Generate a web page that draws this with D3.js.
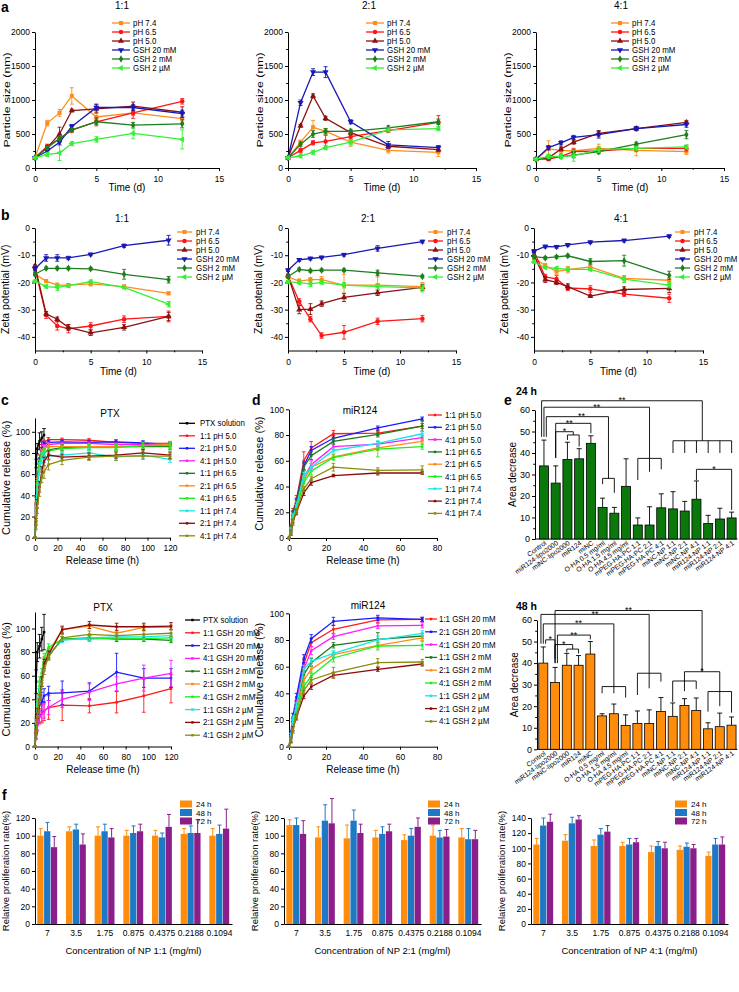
<!DOCTYPE html>
<html><head><meta charset="utf-8">
<script src="https://cdn.jsdelivr.net/npm/d3@7"></script>
<style>body{margin:0;background:#fff}svg{display:block}</style>
</head><body>
<svg id="c" width="739" height="992"></svg>
<script>
// ---------------- DATA ----------------
const timeDays = [0,1,2,3,5,8,12];
const seriesAB = ["pH 7.4","pH 6.5","pH 5.0","GSH 20 mM","GSH 2 mM","GSH 2 µM"];
const sizeTicks = [0,500,1000,1500,2000];
const dayTicks = [0,5,10,15];
const zetaTicks = [0,-10,-20,-30,-40];

const size11 = [[152,660,810,1060,750,810,725],[150,320,430,555,680,810,980],[150,300,500,845,870,910,820],[150,250,380,610,890,890,800],[150,300,430,560,680,630,650],[150,200,220,360,420,510,420]];
const size11Err = [[20,40,50,120,60,40,50],[15,30,30,30,60,80,40],[15,30,100,20,60,60,80],[15,20,40,30,50,40,50],[15,30,30,20,40,40,60],[15,30,110,30,40,80,140]];
const size21 = [[150,380,600,540,380,260,230],[150,260,370,390,460,550,670],[150,620,1060,730,520,320,270],[150,960,1410,1410,680,340,300],[150,350,500,540,540,590,680],[150,180,230,300,380,560,580]];
const size21Err = [[15,30,100,40,60,40,60],[15,30,30,90,40,30,100],[15,20,30,30,30,30,30],[15,40,50,80,30,50,30],[15,30,50,40,30,30,40],[15,30,30,30,40,30,30]];
const size41 = [[130,280,260,250,290,260,240],[130,130,170,240,250,290,290],[130,150,280,380,510,580,670],[130,300,370,450,490,580,640],[130,160,170,190,240,350,490],[130,170,170,180,270,290,310]];
const size41Err = [[15,120,40,40,60,80,40],[15,20,20,40,30,40,40],[15,30,30,30,40,30,30],[15,30,30,30,50,30,40],[15,30,30,40,30,30,60],[15,30,30,80,40,30,30]];

const zeta11 = [[-17,-19.5,-21,-21,-20.5,-21.5,-24],[-15,-32,-36,-37,-36,-33.5,-32.5],[-14,-31.5,-33.5,-36.5,-38.5,-36.5,-32.5],[-15,-11,-11,-11,-9.7,-6.5,-4.5],[-17,-14.8,-14.8,-14.8,-15,-17,-19],[-19.5,-21.5,-21.8,-21.2,-19.7,-21.8,-28]];
const zeta11Err = [[0.5,0.6,0.8,0.6,0.8,0.6,0.5],[0.6,1.2,1.5,1.5,1.2,1.2,2],[0.5,0.8,0.8,1,1,1,1.5],[0.8,1.2,1.2,0.6,0.5,0.6,1.8],[0.5,0.5,0.5,0.5,0.5,1.8,1.2],[0.5,0.6,1.2,0.6,0.6,0.6,1]];
const zeta21 = [[-18,-19.5,-19,-19,-21,-21,-21.5],[-17.5,-27,-33.5,-39.5,-38.3,-34.3,-33.3],[-17.5,-30,-29.8,-27.8,-25.5,-23.8,-21.8],[-15.5,-11.7,-11.2,-10.8,-9.8,-7.5,-5],[-17.8,-15.2,-15.7,-15.5,-15.5,-16.5,-17.8],[-19.8,-20.1,-20.5,-20,-21,-21.5,-22]];
const zeta21Err = [[0.5,0.8,0.8,1.2,4,3,1.5],[0.5,1,1,1,2.5,1.2,1.2],[0.5,1.5,2,1,1.5,1,1],[0.5,0.5,0.5,0.5,0.5,1,0.5],[0.5,0.5,0.5,0.5,0.5,1,0.5],[0.5,0.5,1,0.6,1,1,1.5]];
const zeta41 = [[-11,-13.8,-16,-15.3,-14.3,-18.5,-19.2],[-8.5,-18,-18.7,-22,-22.4,-24.3,-25.8],[-10,-19,-20,-21.5,-25,-22.6,-22.2],[-8.5,-6.8,-6.9,-6.2,-5.2,-4.6,-3],[-10.5,-11,-10.6,-10.2,-12.3,-12,-17.4],[-12.5,-14.5,-14.8,-15.2,-15.2,-18.8,-21]];
const zeta41Err = [[0.5,0.8,1,1.2,1.2,1,1],[0.5,1,1.2,1,1.2,0.8,1.5],[0.5,1,0.8,1,0.5,1,1.5],[0.5,0.5,0.5,0.5,0.5,0.5,0.5],[0.5,0.5,0.5,0.5,1,2,1.5],[0.5,0.5,0.5,0.5,0.5,1.2,1]];

const timePTX = [0,1,2,4,6,8,12,24,48,72,96,120];
const timeSolution = [0,1,2,4,6,8];
const timeMiR = [0,1,2,4,8,12,24,48,72];
const ptxTicksX = [0,20,40,60,80,100,120];
const mirTicksX = [0,20,40,60,80];
const relTicksY = [0,20,40,60,80,100];
const labelsPH = ["PTX solution","1:1 pH 5.0","2:1 pH 5.0","4:1 pH 5.0","1:1 pH 6.5","2:1 pH 6.5","4:1 pH 6.5","1:1 pH 7.4","2:1 pH 7.4","4:1 pH 7.4"];
const labelsGSH = ["PTX solution","1:1 GSH 20 mM","2:1 GSH 20 mM","4:1 GSH 20 mM","1:1 GSH 2 mM","2:1 GSH 2 mM","4:1 GSH 2 mM","1:1 GSH 2  µM","2:1 GSH 2 µM","4:1 GSH 2 µM"];
const labelsGSHmir = ["1:1 GSH 20 mM","2:1 GSH 20 mM","4:1 GSH 20 mM","1:1 GSH 2 mM","2:1 GSH 2 mM","4:1 GSH 2 mM","1:1 GSH 2 µM","2:1 GSH 2 µM","4:1 GSH 2 µM"];

const ptxSolutionPH = [0,70,84,91,94,97];
const ptxSolutionPHErr = [0,4,5,8,6,6];
const ptxPH = [
 [0,30,55,75,85,90,92.5,92.5,92,90,89,89],
 [0,28,50,72,82,88,90,90.5,90,90.5,89.5,88],
 [0,26,48,68,80,86,88,89,89,88,88,89],
 [0,35,55,70,78,80,83,85,86,86,86,86],
 [0,30,52,70,80,84,86,86,86,86,87,88],
 [0,28,50,70,78,81,82,84,85,85,87,87],
 [0,25,45,65,75,76,77,78,80,76,78,74],
 [0,15,32,48,62,72,78,76,77,78,80,78],
 [0,12,28,45,58,62,69,73,76,77,77,77]];
const ptxPHErr = [
 [0,3,4,3,3,2,2,1.5,1.5,1.5,1.5,1.5],
 [0,3,4,3,3,2,2,1.5,1.5,2,2,1.5],
 [0,3,4,3,3,2,2,1.5,1.5,1.5,1.5,1.5],
 [0,3,4,3,3,3,3,3,3,3,3,3],
 [0,3,4,3,3,3,3,3,3,3,3,3],
 [0,3,4,3,3,3,3,3,3,3,3,3],
 [0,4,5,6,5,5,4,3,4,3,3,3],
 [0,3,4,5,5,4,4,3,3,3,3,3],
 [0,4,5,6,6,6,5,4,3,4,3,3]];

const mirPH = [
 [0,8,20,30,60,70,81,81.5,87],
 [0,6,18,28,56,68,77.5,85.5,92.5],
 [0,5,15,25,47,57,71,73,78],
 [0,7,18,27,55,64,75,80.5,87],
 [0,5,15,23,45,55,63,70,75],
 [0,5,15,23,43,52,62.5,69,71],
 [0,6,16,25,48,55,68,73.5,81],
 [0,4,12,20,35,43,48.5,50.5,50.5],
 [0,4,13,21,38,46,55,52.5,53]];
const mirPHErr = [
 [0,2,3,3,7,5,2.5,2,2],[0,2,3,3,3,3,2,1.5,1.5],[0,2,3,3,3,3,2,2,2],
 [0,2,3,3,3,3,2,2,4],[0,2,3,3,3,3,2,2,2],[0,2,3,3,3,3,2,6,2],
 [0,2,3,3,3,3,2,2,2],[0,2,2,2,2,2,1,1.5,1],[0,2,2,2,2,2,3,2,3]];

const ptxSolutionGSH = [0,55,80,85,91,97];
const ptxSolutionGSHErr = [0,10,8,10,10,15];
const ptxGSH = [
 [0,10,18,26,28,30,33,35,34.5,37.5,43,49],
 [0,15,25,35,38,43,45,45.5,47,63,58,58],
 [0,10,18,25,28,30,33,40,46,53,58,62],
 [0,15,30,45,55,68,77,91,92,91,91,90],
 [0,15,30,45,58,72,80,99,102,96,101,101],
 [0,20,35,55,62,75,84,91,91,92,91.5,92],
 [0,18,32,45,58,70,78,90,92,93,93,94],
 [0,15,28,40,55,70,78,99,103,101.5,101.5,102],
 [0,12,25,40,52,65,76,92,95,94,95,96]];
const ptxGSHErr = [
 [0,3,4,6,8,8,10,13,6,9,14,12],
 [0,4,5,8,8,6,6,10,7,16,8,8],
 [0,4,5,6,7,6,6,7,7,6,11,11],
 [0,3,4,4,4,4,3,2,2,2,2,2],
 [0,3,4,4,4,4,3,2,2,2,2,2],
 [0,3,4,4,4,4,3,2,2,2,2,2],
 [0,3,4,4,4,4,3,2,2,2,2,2],
 [0,3,4,4,4,4,3,3,3,3,3,3],
 [0,3,4,4,4,4,3,3,3,3,3,3]];

const mirGSH = [
 [0,8,18,32,62,78,88,95,95.5],
 [0,10,22,37,66,81,94,96.5,95.5],
 [0,8,17,32,58,72,82.5,90.5,91],
 [0,6,15,28,54,63,76,80.5,83],
 [0,5,15,27,50,58,69,76,81.5],
 [0,5,15,27,45,53,66.5,75.5,76],
 [0,8,20,30,58,64,70,80,85],
 [0,5,13,22,38,45,53.5,58,62],
 [0,5,12,23,42,50,55.5,63,63.5]];
const mirGSHErr = [
 [0,2,3,3,3,3,3,2,1.5],[0,2,3,3,3,3,3,2,1.5],[0,2,3,3,3,3,2,2,2],
 [0,2,3,3,3,3,2,5,2],[0,2,3,3,3,3,2,2,2],[0,2,3,3,3,3,3,3,3],
 [0,2,3,3,3,3,2,3,2],[0,2,2,2,2,2,2,1.5,1.5],[0,2,2,2,2,2,4,3,2]];

const woundGroups = ["Control","miR124-lipo2000","miNC-lipo2000","miR124","miNC","O-HA 0.5 mg/ml","O-HA 1.5 mg/ml","O-HA 4.5 mg/ml","mPEG-HA-PC 1:1","mPEG-HA-PC 2:1","mPEG-HA-PC 4:1","miNC-NP 1:1","miNC-NP 2:1","miNC-NP 4:1","miR124-NP 1:1","miR124-NP 2:1","miR124-NP 4:1"];
const areaTicks = [0,10,20,30,40,50,60];
const area24 = [34,26,37,37.3,44.5,14.7,12,24.5,6.5,6.5,14.5,14,13,18.5,7.2,9.3,9.8];
const area24Err = [12,8,8,4.7,3.5,4.3,2.7,12.8,3.3,8.5,6.5,8,4.5,8.5,3.8,5,2.7];
const area48 = [40,31,39,39,44.2,15.5,16.5,11,12,12,17.5,15.3,20.3,18,9.5,10.5,11.2];
const area48Err = [7.5,7,5.5,4.5,5.8,1,4.5,5,5.8,6.3,6.5,6.2,3.2,5.8,2.8,6.3,3.8];
// significance brackets: [leftIdx, rightIdx, level, leftFoot, rightFoot, label]
const sig24 = [[-0.2,13.5,64.3,47.5,45.7,"**"],[0,9,61.3,47.5,37.5,"**"],[0.2,5.5,56.9,47.5,28.2,"**"],[1,4,53.8,37.7,49.2,"**"],[1,2.5,49.9,37.7,48.4,"*"],[13,16,32.4,27.4,13.5,"*"]];
const grp24 = [[[2,3],48.4,[46,43]],[[5,6],28.2,[25.5,21.5]],[[8,9,10],37.5,[27.4,31.3,32.4]],[[11,12,13,14,15,16],45.7,[40,40,40,40,40,40]]];
const sig48 = [[1,13.5,64.4,42,36,"**"],[-0.2,9,62.6,49,35.3,"**"],[0,6,58.2,49,29.1,"**"],[1.2,4,53,40,51,"**"],[0.2,1,50.8,49,40,"*"],[1,2.5,48.6,40,46.5,"*"],[12,15,36,31.7,26.8,"*"]];
const grp48 = [[[2,3],46.5,[45,44.5]],[[5,6,7],29.1,[26,26,24]],[[8,9,10],35.3,[25.2,28.3,31.4]],[[11,12,13],31.7,[22,27,28]],[[14,15,16],26.8,[17.5,20,17]]];

const concLabels = ["7","3.5","1.75","0.875","0.4375","0.2188","0.1094"];
const timeF = ["24 h","48 h","72 h"];
const prolif11 = [[100,105,87],[105,107,90],[100,105,98],[100,103,105],[100,98,110],[102,103,103],[100,102,108]];
const prolif11Err = [[8,10,12],[5,6,12],[10,8,10],[6,8,8],[6,5,14],[6,8,15],[8,10,22]];
const prolif21 = [[112,112,102],[98,117,114],[97,117,103],[98,102,105],[95,100,110],[100,98,99],[98,96,96]];
const prolif21Err = [[6,8,15],[12,18,28],[15,12,10],[8,8,8],[6,8,10],[12,8,8],[10,12,10]];
const prolif41 = [[105,130,135],[110,133,138],[103,118,122],[103,105,108],[95,103,100],[98,102,100],[90,105,105]];
const prolif41Err = [[8,10,10],[8,8,5],[8,8,8],[5,8,5],[8,6,8],[5,5,5],[5,8,10]];
const prolifTicks120 = [0,20,40,60,80,100,120];
const prolifTicks140 = [0,20,40,60,80,100,120,140];

// ---------------- STYLE ----------------
const FONT = "'Liberation Sans', Arial, sans-serif";
const colAB = ["#ff8c1a","#ff1414","#8b1010","#1818b4","#1e7d1e","#35ef35"];
const symAB = ["sq","ci","tu","td","di","tl"];
const colRel = ["#000000","#ff1a1a","#1a1aff","#ff1aff","#1a7a1a","#ff8c1a","#1aee1a","#19e6e6","#8b0a0a","#8b8b0a"];
const colBar24 = "#0a780a", colBar48 = "#ff8c0a";
const colF = ["#ff8c0a","#1f78c4","#8a1f8c"];
const sigLabelShift24 = {2:4,3:-4};
const sigLabelShift48 = {};

const svg = d3.select("#c");

function T(p,x,y,s,o={}){
  const t = p.append("text")
    .attr("transform",`translate(${x},${y})`+(o.rot?` rotate(${o.rot})`:"")+(o.sx?` scale(${o.sx},1)`:""))
    .attr("font-size",o.size||9).attr("text-anchor",o.anchor||"start")
    .attr("font-family",FONT).attr("fill",o.fill||"#000").text(s);
  if(o.weight) t.attr("font-weight",o.weight);
  return t;
}
function styleAxis(g,fs){
  g.selectAll("path,line").attr("stroke","#000").attr("stroke-width",1);
  g.selectAll("text").attr("font-size",fs).attr("font-family",FONT).attr("fill","#000");
}
const symTypes = {sq:d3.symbolSquare,ci:d3.symbolCircle,tu:d3.symbolTriangle,td:d3.symbolTriangle,di:d3.symbolDiamond,tl:d3.symbolTriangle};
const symRot = {td:180,tl:-90};
function marker(p,x,y,type,color,size){
  p.append("path").attr("d",d3.symbol().type(symTypes[type]).size(size)())
   .attr("transform",`translate(${x},${y})`+(symRot[type]?` rotate(${symRot[type]})`:"")).attr("fill",color);
}
function vline(p,x,y1,y2,c,w){p.append("line").attr("x1",x).attr("x2",x).attr("y1",y1).attr("y2",y2).attr("stroke",c).attr("stroke-width",w||1);}
function hline(p,x1,x2,y,c,w){p.append("line").attr("x1",x1).attr("x2",x2).attr("y1",y).attr("y2",y).attr("stroke",c).attr("stroke-width",w||1);}

function linePanel(o){
  const x = d3.scaleLinear().domain(o.xDom).range([o.L,o.R]);
  const y = d3.scaleLinear().domain(o.yDom).range([o.B,o.T]);
  const g = svg.append("g");
  const gx = g.append("g").attr("transform",`translate(0,${o.B})`)
    .call(d3.axisBottom(x).tickValues(o.xTicks).tickSize(3).tickSizeOuter(0).tickPadding(o.xPad||4).tickFormat(d=>String(d)));
  styleAxis(gx,o.tf||8.5);
  if(o.xMinor){const m=g.append("g").attr("transform",`translate(0,${o.B})`).call(d3.axisBottom(x).tickValues(o.xMinor).tickSize(1.8).tickFormat(""));m.select(".domain").remove();styleAxis(m,8);}
  const gy = g.append("g").attr("transform",`translate(${o.L},0)`)
    .call(d3.axisLeft(y).tickValues(o.yTicks).tickSize(3).tickSizeOuter(0).tickPadding(2).tickFormat(d=>String(d)));
  styleAxis(gy,o.tf||8.5);
  if(o.yMinor){const m=g.append("g").attr("transform",`translate(${o.L},0)`).call(d3.axisLeft(y).tickValues(o.yMinor).tickSize(1.8).tickFormat(""));m.select(".domain").remove();styleAxis(m,8);}
  o.series.forEach((vals,i)=>{
    const xs = o.xsOf(i), c = o.colors[i];
    const pts = vals.map((v,j)=>({x:xs[j],v:v,e:o.errs[i][j]}));
    const sg = g.append("g");
    pts.forEach(d=>{ if(d.e>0){const cx=x(d.x); vline(sg,cx,y(d.v-d.e),y(d.v+d.e),c,o.ew||1);
      hline(sg,cx-o.cap,cx+o.cap,y(d.v+d.e),c,o.ew||1); hline(sg,cx-o.cap,cx+o.cap,y(d.v-d.e),c,o.ew||1);} });
    sg.append("path").datum(pts).attr("fill","none").attr("stroke",c).attr("stroke-width",o.lw)
      .attr("d",d3.line().x(d=>x(d.x)).y(d=>y(d.v)));
    pts.forEach(d=>marker(sg,x(d.x),y(d.v),o.syms[i],c,o.ss));
  });
  o.labels.forEach((lab,i)=>{
    const ly = o.legY + i*o.legDy;
    hline(g,o.legX,o.legX+o.legLen,ly,o.colors[i],o.lw);
    marker(g,o.legX+o.legLen/2,ly,o.syms[i],o.colors[i],o.ss);
    T(g,o.legX+o.legLen+o.legGap,ly+3,lab,{size:o.lf,sx:o.lsx});
  });
  if(o.title) T(g,o.titleX,o.titleY,o.title,{size:10,anchor:"middle"});
  T(g,(o.L+o.R)/2+(o.xlDx||0),o.xlY,o.xLabel,{size:o.xlf||10,anchor:"middle"});
  T(g,o.ylX,(o.B+o.T)/2,o.yLabel,{size:o.ylf||10,anchor:"middle",rot:-90,sx:o.ylsx});
}

// ----- Row a -----
const aPos = [[35,219,size11,size11Err,"1:1",122,112],[288,476,size21,size21Err,"2:1",369,366],[536,724,size41,size41Err,"4:1",621,611]];
aPos.forEach(p=>{
  linePanel({L:p[0],R:p[1],T:32,B:168,xDom:[0,15],yDom:[0,2000],xTicks:dayTicks,yTicks:sizeTicks,
    xMinor:[2.5,7.5,12.5],yMinor:[250,750,1250,1750],
    series:p[2],errs:p[3],xsOf:()=>timeDays,colors:colAB,syms:symAB,labels:seriesAB,
    lw:1.3,ss:16,cap:2,ew:0.9,legX:p[6],legY:23,legDy:9,legLen:18,legGap:3,lf:8.6,lsx:0.92,
    title:p[4],titleX:p[5],titleY:9,xLabel:"Time (d)",xlY:191,yLabel:"Particle size (nm)",ylX:p[0]-25,ylsx:1.3,ylf:9.5,xPad:5});
});
// ----- Row b -----
const bPos = [[35,202,zeta11,zeta11Err,"1:1",122,177],[288,456,zeta21,zeta21Err,"2:1",368,428],[534,703,zeta41,zeta41Err,"4:1",621,675]];
bPos.forEach(p=>{
  linePanel({L:p[0],R:p[1],T:228,B:350.5,xDom:[0,15],yDom:[-45,0],xTicks:dayTicks,yTicks:zetaTicks,
    xMinor:[2.5,7.5,12.5],yMinor:[-5,-15,-25,-35],
    series:p[2],errs:p[3],xsOf:()=>timeDays,colors:colAB,syms:symAB,labels:seriesAB,
    lw:1.3,ss:16,cap:2,ew:0.9,legX:p[6],legY:232,legDy:9,legLen:15,legGap:4,lf:8.6,lsx:0.92,
    title:p[4],titleX:p[5],titleY:222,xLabel:"Time (d)",xlY:375,yLabel:"Zeta potential (mV)",ylX:p[0]-26,ylf:10.5,xPad:5});
});
// ----- Row c/d -----
const relSyms = Array(10).fill("sq");
linePanel({L:35,R:170,T:418,B:537.7,xDom:[0,120],yDom:[0,113],xTicks:ptxTicksX,yTicks:relTicksY,
  series:[ptxSolutionPH].concat(ptxPH),errs:[ptxSolutionPHErr].concat(ptxPHErr),xsOf:i=>i===0?timeSolution:timePTX,
  colors:colRel,syms:relSyms,labels:labelsPH,lw:1.3,ss:6,cap:1.8,ew:0.9,
  legX:179,legY:423.3,legDy:12.5,legLen:16,legGap:5,lf:8.6,lsx:0.92,
  title:"PTX",titleX:110,titleY:417,xLabel:"Release time (h)",xlY:564,yLabel:"Cumulative release (%)",ylX:10,ylf:11,xPad:4});
linePanel({L:289,R:437,T:409.3,B:538,xDom:[0,80],yDom:[0,100],xTicks:mirTicksX,yTicks:relTicksY,
  series:mirPH,errs:mirPHErr,xsOf:()=>timeMiR,colors:colRel.slice(1),syms:relSyms,labels:labelsPH.slice(1),
  lw:1.3,ss:6,cap:1.8,ew:0.9,legX:428,legY:415,legDy:12.3,legLen:14,legGap:3,lf:8.6,lsx:0.92,
  title:"miR124",titleX:360,titleY:414,xLabel:"Release time (h)",xlY:564,yLabel:"Cumulative release (%)",ylX:263,ylf:11,xPad:4});
linePanel({L:35,R:171,T:612,B:746.5,xDom:[0,120],yDom:[0,114],xTicks:ptxTicksX,yTicks:relTicksY,
  series:[ptxSolutionGSH].concat(ptxGSH),errs:[ptxSolutionGSHErr].concat(ptxGSHErr),xsOf:i=>i===0?timeSolution:timePTX,
  colors:colRel,syms:relSyms,labels:labelsGSH,lw:1.3,ss:6,cap:1.8,ew:0.9,
  legX:185,legY:620,legDy:12.8,legLen:15,legGap:3,lf:8.6,lsx:0.92,
  title:"PTX",titleX:103,titleY:611,xLabel:"Release time (h)",xlY:773,yLabel:"Cumulative release (%)",ylX:10,ylf:11,xPad:4});
linePanel({L:289,R:437,T:613.3,B:746.7,xDom:[0,80],yDom:[0,100],xTicks:mirTicksX,yTicks:relTicksY,
  series:mirGSH,errs:mirGSHErr,xsOf:()=>timeMiR,colors:colRel.slice(1),syms:relSyms,labels:labelsGSHmir,
  lw:1.3,ss:6,cap:1.8,ew:0.9,legX:425,legY:619,legDy:12.8,legLen:12,legGap:2,lf:8.6,lsx:0.92,
  title:"miR124",titleX:368,titleY:609,xLabel:"Release time (h)",xlY:773,yLabel:"Cumulative release (%)",ylX:263,ylf:11,xPad:4});

// ----- Panel e -----
function woundPanel(o){
  const g = svg.append("g");
  const x = d3.scaleBand().domain(woundGroups).range([o.x0,o.x1]).paddingInner(0.23).paddingOuter(0.115);
  const y = d3.scaleLinear().domain([0,60]).range([o.B,o.T]);
  const step = x.step(), c0 = x(woundGroups[0])+x.bandwidth()/2;
  const pos = i=>c0+i*step;
  const gy = g.append("g").attr("transform",`translate(${o.ax},0)`).call(d3.axisLeft(y).tickValues(areaTicks).tickSize(3).tickSizeOuter(0).tickPadding(2));
  styleAxis(gy,9);
  const m = g.append("g").attr("transform",`translate(${o.ax},0)`).call(d3.axisLeft(y).tickValues([5,15,25,35,45,55]).tickSize(1.8).tickFormat(""));
  m.select(".domain").remove(); styleAxis(m,8);
  hline(g,o.ax,o.x1,y(0),"#000",1);
  woundGroups.forEach((k,i)=>{
    const v=o.vals[i], e=o.errs[i], cx=pos(i);
    vline(g,cx,y(v),y(v+e),"#000",0.9); hline(g,cx-2.5,cx+2.5,y(v+e),"#000",0.9);
    g.append("rect").attr("x",x(k)).attr("width",x.bandwidth()).attr("y",y(v)).attr("height",y(0)-y(v))
      .attr("fill",o.color).attr("stroke","#000").attr("stroke-width",0.8);
  });
  o.grp.forEach(gr=>{
    const xs = gr[0].map(pos);
    hline(g,d3.min(xs),d3.max(xs),y(gr[1]),"#000",0.9);
    xs.forEach((xx,j)=>vline(g,xx,y(gr[1]),y(gr[2][j]),"#000",0.9));
  });
  o.sig.forEach((s,k)=>{
    const xl=pos(s[0]), xr=pos(s[1]), ly=y(s[2]);
    hline(g,xl,xr,ly,"#000",0.9); vline(g,xl,ly,y(s[3]),"#000",0.9); vline(g,xr,ly,y(s[4]),"#000",0.9);
    T(g,(xl+xr)/2+(o.shift[k]||0),ly+2.5,s[5],{size:9,anchor:"middle"});
  });
  if(o.showLabels) woundGroups.forEach((k,i)=>T(g,pos(i)+3,o.B+5,k,{size:6.8,anchor:"end",rot:-36}));
  T(g,o.titleX,o.titleY,o.title,{size:10.5,weight:"bold"});
  T(g,o.ax-19,(o.B+o.T)/2,"Area decrease",{size:10,anchor:"middle",rot:-90});
}
woundPanel({ax:535,x0:538.1,x1:737.5,B:539,T:410,vals:area24,errs:area24Err,color:colBar24,sig:sig24,grp:grp24,shift:sigLabelShift24,title:"24 h",titleX:516,titleY:395,showLabels:true});
woundPanel({ax:537,x0:537.4,x1:737.4,B:749.3,T:620,vals:area48,errs:area48Err,color:colBar48,sig:sig48,grp:grp48,shift:sigLabelShift48,title:"48 h",titleX:516,titleY:610,showLabels:true});

// ----- Row f -----
function prolifPanel(o){
  const g = svg.append("g");
  const x0 = d3.scaleBand().domain(concLabels).range([o.L,o.R]).paddingInner(0.29).paddingOuter(0.08);
  const x1 = d3.scaleBand().domain(timeF).range([0,x0.bandwidth()]);
  const y = d3.scaleLinear().domain([0,o.yMax]).range([o.B,o.T]);
  const gy = g.append("g").attr("transform",`translate(${o.L},0)`).call(d3.axisLeft(y).tickValues(o.ticks).tickSize(3).tickSizeOuter(0).tickPadding(2));
  styleAxis(gy,8.5);
  const gx = g.append("g").attr("transform",`translate(0,${o.B})`).call(d3.axisBottom(x0).tickSize(0).tickSizeOuter(0).tickPadding(6));
  styleAxis(gx,8.5);
  concLabels.forEach((c,i)=>{
    timeF.forEach((t,j)=>{
      const v=o.vals[i][j], e=o.errs[i][j], bx=x0(c)+x1(t), cx=bx+x1.bandwidth()/2;
      vline(g,cx,y(v),y(v+e),colF[j],1); hline(g,cx-2,cx+2,y(v+e),colF[j],1);
      g.append("rect").attr("x",bx).attr("width",x1.bandwidth()-0.5).attr("y",y(v)).attr("height",y(0)-y(v)).attr("fill",colF[j]);
    });
  });
  timeF.forEach((t,j)=>{
    g.append("rect").attr("x",o.legX).attr("y",o.legY+j*8.5-3.5).attr("width",12).attr("height",7).attr("fill",colF[j]);
    T(g,o.legX+16,o.legY+j*8.5+3,t,{size:8});
  });
  T(g,(o.L+o.R)/2,954,o.xLabel,{size:9.5,anchor:"middle"});
  T(g,o.L-26,(o.B+o.T)/2,"Relative proliferation rate(%)",{size:9.5,anchor:"middle",rot:-90});
}
prolifPanel({L:35,R:232,B:924,T:818,yMax:120,ticks:prolifTicks120,vals:prolif11,errs:prolif11Err,legX:180,legY:804,xLabel:"Concentration of NP 1:1 (mg/ml)"});
prolifPanel({L:284,R:481,B:924,T:818,yMax:120,ticks:prolifTicks120,vals:prolif21,errs:prolif21Err,legX:428,legY:804,xLabel:"Concentration of NP 2:1 (mg/ml)"});
prolifPanel({L:531,R:728,B:924,T:818,yMax:140,ticks:prolifTicks140,vals:prolif41,errs:prolif41Err,legX:675,legY:804,xLabel:"Concentration of NP 4:1 (mg/ml)"});

// panel letters
[["a",1,12],["b",1,220],["c",1,405],["d",252,405],["e",504,405],["f",2,800]].forEach(l=>T(svg,l[1],l[2],l[0],{size:14,weight:"bold"}));
</script>
</body></html>
